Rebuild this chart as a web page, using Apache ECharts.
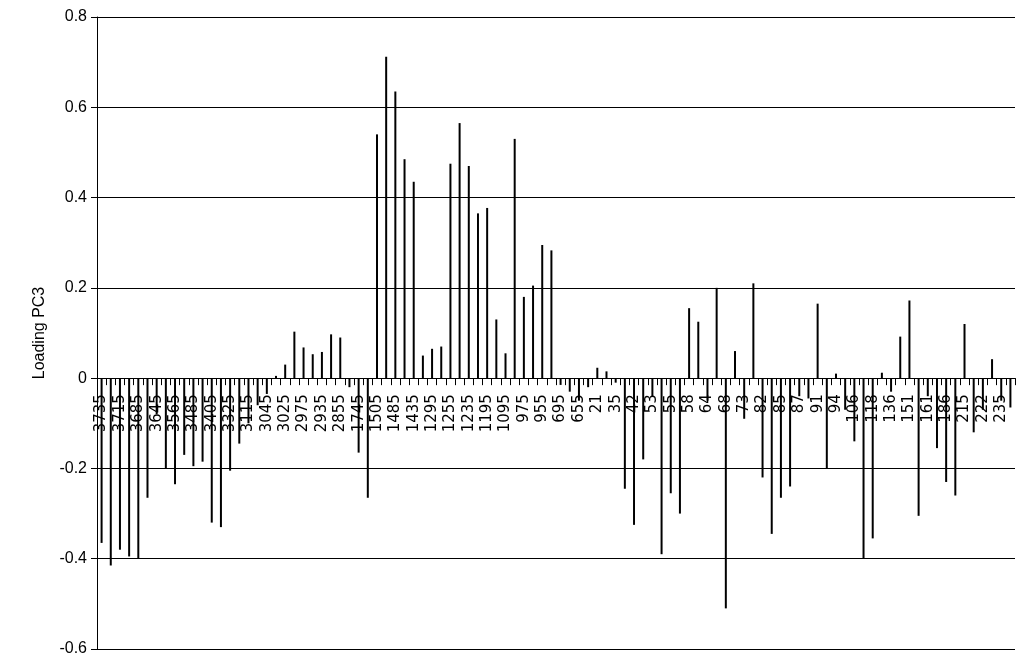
<!DOCTYPE html>
<html>
<head>
<meta charset="utf-8">
<script src="https://cdn.jsdelivr.net/npm/echarts@6/dist/echarts.min.js"></script>
<style>
  html, body { margin: 0; padding: 0; background: #fff; }
  #chart { width: 1024px; height: 667px; }
</style>
</head>
<body>
<div id="chart"></div>
<script>
// variable names, only every other one is printed on the axis
var categories = [
  '3735', '3725', '3715', '3700', '3685', '3665', '3645', '3605', '3565', '3525',
  '3485', '3445', '3405', '3365', '3325', '3220', '3115', '3080', '3045', '3035',
  '3025', '3000', '2975', '2955', '2935', '2895', '2855', '2300', '1745', '1625',
  '1505', '1495', '1485', '1460', '1435', '1365', '1295', '1275', '1255', '1245',
  '1235', '1215', '1195', '1145', '1095', '1035', '975', '965', '955', '825',
  '695', '675', '655', '338', '21', '28', '35', '38', '42', '47',
  '53', '54', '55', '56', '58', '61', '64', '66', '68', '70',
  '73', '77', '82', '83', '85', '86', '87', '89', '91', '92',
  '94', '100', '106', '112', '118', '127', '136', '143', '151', '156',
  '161', '173', '186', '200', '215', '218', '222', '228', '235', '240'
];

var loadings = [
  -0.365, -0.415, -0.38, -0.395, -0.40, -0.265, -0.08, -0.20, -0.235, -0.17,
  -0.195, -0.185, -0.32, -0.33, -0.205, -0.145, -0.10, -0.06, -0.035, 0.005,
  0.03, 0.103, 0.068, 0.053, 0.058, 0.097, 0.09, -0.02, -0.165, -0.265,
  0.54, 0.712, 0.635, 0.485, 0.435, 0.05, 0.065, 0.07, 0.475, 0.565,
  0.47, 0.365, 0.377, 0.13, 0.055, 0.53, 0.18, 0.205, 0.295, 0.283,
  -0.015, -0.03, -0.05, -0.02, 0.023, 0.015, -0.01, -0.245, -0.325, -0.18,
  -0.04, -0.39, -0.255, -0.30, 0.155, 0.125, -0.05, 0.20, -0.51, 0.06,
  -0.09, 0.21, -0.22, -0.345, -0.265, -0.24, -0.04, -0.045, 0.165, -0.20,
  0.01, -0.07, -0.14, -0.40, -0.355, 0.012, -0.03, 0.092, 0.172, -0.305,
  -0.04, -0.155, -0.23, -0.26, 0.12, -0.12, -0.07, 0.042, -0.05, -0.065
];

var yMin = -0.6, yMax = 0.8, yStep = 0.2;

var W = 1024, H = 667;
var gTop = 17, gBottom = 18, gLeft = 97, gRight = 9;
// move the category axis up to the zero line
var plotH = H - gTop - gBottom;
var zeroOffset = -plotH * (0 - yMin) / (yMax - yMin);

var chart = echarts.init(document.getElementById('chart'), null, { renderer: 'canvas' });
chart.setOption({
  animation: false,
  backgroundColor: '#fff',
  textStyle: { fontFamily: 'Liberation Sans, Arial, sans-serif' },
  grid: { left: gLeft, right: gRight, top: gTop, bottom: gBottom },
  xAxis: {
    type: 'category',
    data: categories,
    boundaryGap: true,
    position: 'bottom',
    offset: zeroOffset,
    axisLine: { onZero: false, lineStyle: { color: '#000', width: 1 } },
    axisTick: { show: true, interval: 0, length: 7, lineStyle: { color: '#000' } },
    axisLabel: {
      interval: 1,
      rotate: 90,
      color: '#000',
      fontFamily: 'DejaVu Sans',
      fontSize: 15,
      margin: 16
    },
    splitLine: { show: false }
  },
  yAxis: {
    type: 'value',
    min: yMin,
    max: yMax,
    interval: yStep,
    name: 'Loading PC3',
    nameLocation: 'middle',
    nameGap: 49,
    nameTextStyle: { color: '#000', fontSize: 16 },
    axisLine: { show: true, lineStyle: { color: '#000' } },
    axisTick: { show: true, length: 6, lineStyle: { color: '#000' } },
    axisLabel: {
      color: '#000',
      fontSize: 16,
      margin: 10,
      formatter: function (v) { return String(Math.round(v * 10) / 10); }
    },
    splitLine: { show: true, lineStyle: { color: '#000', width: 1, type: 'solid' } }
  },
  series: [{
    type: 'bar',
    data: loadings,
    barWidth: 2,
    itemStyle: { color: '#000' }
  }]
});
</script>
</body>
</html>
